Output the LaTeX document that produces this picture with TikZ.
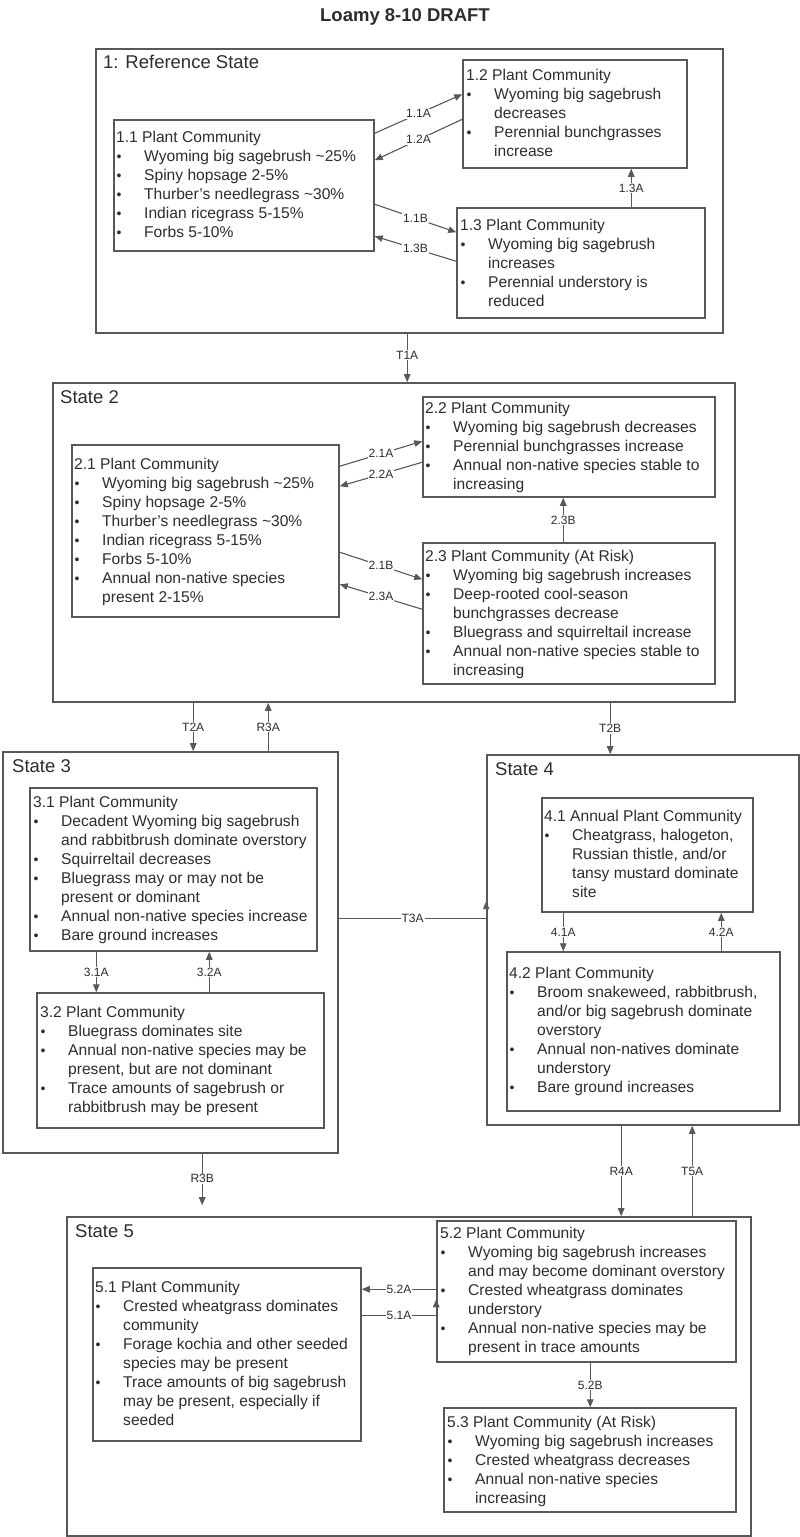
\documentclass[tikz,border=0pt]{standalone}
\usepackage{fontspec}
\setmainfont{Liberation Sans}
\usetikzlibrary{arrows.meta,fit}
\definecolor{linec}{RGB}{88,88,88}
\definecolor{txtc}{RGB}{45,45,45}
\newcommand{\bi}{\makebox[28pt][l]{\hspace{0.5pt}\raisebox{0pt}{\fontsize{14}{14}\selectfont\textbullet}}}
\newcommand{\ci}{\hspace*{28pt}}
\newcommand{\tl}{\textasciitilde}
\begin{document}
\begin{tikzpicture}[x=1pt,y=-1pt,
  stbox/.style={draw=linec,line width=1.6pt,inner sep=0pt,rectangle},
  pcbox/.style={draw=linec,line width=1.5pt,inner sep=0pt,rectangle},
  txt/.style={anchor=base west,inner sep=0pt,text=txtc,font=\fontsize{15.6}{19.1}\selectfont},
  stlabel/.style={anchor=base west,inner sep=0pt,text=txtc,font=\fontsize{18.5}{20}\selectfont},
  arr/.style={draw=linec,line width=1.1pt,-{Triangle[length=8pt,width=6.5pt]}},
  lbl/.style={fill=white,inner sep=1pt,text=txtc,font=\fontsize{12}{12}\selectfont}]
\useasboundingbox[fill=white] (0,0) rectangle (800,1537);
\node[anchor=base,text=txtc,font=\bfseries\fontsize{18.5}{20}\selectfont] (title) at (405,21) {Loamy 8-10 DRAFT};

% state boxes
\node[stbox,fit={(96,49) (723,333)}] (s1) {};
\node[stbox,fit={(53,383) (735,702)}] (s2) {};
\node[stbox,fit={(3,752) (338,1153)}] (s3) {};
\node[stbox,fit={(487,755) (799,1125)}] (s4) {};
\node[stbox,fit={(67,1217) (751,1536)}] (s5) {};
\node[stlabel] (s1l) at (103,68) {1: Reference State};
\node[stlabel] (s2l) at (60,403) {State 2};
\node[stlabel] (s3l) at (12,772) {State 3};
\node[stlabel] (s4l) at (495,775) {State 4};
\node[stlabel] (s5l) at (75,1237) {State 5};

% community boxes
\node[pcbox,fit={(114,120) (374,251)}] (c11) {};
\node[pcbox,fit={(463,60) (687,168)}] (c12) {};
\node[pcbox,fit={(457,208) (705,318)}] (c13) {};
\node[pcbox,fit={(72,445) (339,617)}] (c21) {};
\node[pcbox,fit={(423,397) (715,497)}] (c22) {};
\node[pcbox,fit={(423,543) (715,684)}] (c23) {};
\node[pcbox,fit={(30,788) (317,951)}] (c31) {};
\node[pcbox,fit={(37,993) (324,1128)}] (c32) {};
\node[pcbox,fit={(542,798) (753,912)}] (c41) {};
\node[pcbox,fit={(507,952) (780,1111)}] (c42) {};
\node[pcbox,fit={(93,1268) (361,1441)}] (c51) {};
\node[pcbox,fit={(437,1221) (736,1362)}] (c52) {};
\node[pcbox,fit={(444,1408) (736,1512)}] (c53) {};

% texts
\node[txt] (t11) at (116,142) {\begin{tabular}[t]{@{}l@{}}1.1 Plant Community\\
\bi Wyoming big sagebrush \tl25\%\\
\bi Spiny hopsage 2-5\%\\
\bi Thurber's needlegrass \tl30\%\\
\bi Indian ricegrass 5-15\%\\
\bi Forbs 5-10\%\end{tabular}};
\node[txt] (t12) at (466,80) {\begin{tabular}[t]{@{}l@{}}1.2 Plant Community\\
\bi Wyoming big sagebrush\\
\ci decreases\\
\bi Perennial bunchgrasses\\
\ci increase\end{tabular}};
\node[txt] (t13) at (460,230) {\begin{tabular}[t]{@{}l@{}}1.3 Plant Community\\
\bi Wyoming big sagebrush\\
\ci increases\\
\bi Perennial understory is\\
\ci reduced\end{tabular}};
\node[txt] (t21) at (74,469) {\begin{tabular}[t]{@{}l@{}}2.1 Plant Community\\
\bi Wyoming big sagebrush \tl25\%\\
\bi Spiny hopsage 2-5\%\\
\bi Thurber's needlegrass \tl30\%\\
\bi Indian ricegrass 5-15\%\\
\bi Forbs 5-10\%\\
\bi Annual non-native species\\
\ci present 2-15\%\end{tabular}};
\node[txt] (t22) at (425,413) {\begin{tabular}[t]{@{}l@{}}2.2 Plant Community\\
\bi Wyoming big sagebrush decreases\\
\bi Perennial bunchgrasses increase\\
\bi Annual non-native species stable to\\
\ci increasing\end{tabular}};
\node[txt] (t23) at (425,561) {\begin{tabular}[t]{@{}l@{}}2.3 Plant Community (At Risk)\\
\bi Wyoming big sagebrush increases\\
\bi Deep-rooted cool-season\\
\ci bunchgrasses decrease\\
\bi Bluegrass and squirreltail increase\\
\bi Annual non-native species stable to\\
\ci increasing\end{tabular}};
\node[txt] (t31) at (33,807) {\begin{tabular}[t]{@{}l@{}}3.1 Plant Community\\
\bi Decadent Wyoming big sagebrush\\
\ci and rabbitbrush dominate overstory\\
\bi Squirreltail decreases\\
\bi Bluegrass may or may not be\\
\ci present or dominant\\
\bi Annual non-native species increase\\
\bi Bare ground increases\end{tabular}};
\node[txt] (t32) at (40,1017) {\begin{tabular}[t]{@{}l@{}}3.2 Plant Community\\
\bi Bluegrass dominates site\\
\bi Annual non-native species may be\\
\ci present, but are not dominant\\
\bi Trace amounts of sagebrush or\\
\ci rabbitbrush may be present\end{tabular}};
\node[txt] (t41) at (544,821) {\begin{tabular}[t]{@{}l@{}}4.1 Annual Plant Community\\
\bi Cheatgrass, halogeton,\\
\ci Russian thistle, and/or\\
\ci tansy mustard dominate\\
\ci site\end{tabular}};
\node[txt] (t42) at (509,978) {\begin{tabular}[t]{@{}l@{}}4.2 Plant Community\\
\bi Broom snakeweed, rabbitbrush,\\
\ci and/or big sagebrush dominate\\
\ci overstory\\
\bi Annual non-natives dominate\\
\ci understory\\
\bi Bare ground increases\end{tabular}};
\node[txt] (t51) at (95,1292) {\begin{tabular}[t]{@{}l@{}}5.1 Plant Community\\
\bi Crested wheatgrass dominates\\
\ci community\\
\bi Forage kochia and other seeded\\
\ci species may be present\\
\bi Trace amounts of big sagebrush\\
\ci may be present, especially if\\
\ci seeded\end{tabular}};
\node[txt] (t52) at (440,1238) {\begin{tabular}[t]{@{}l@{}}5.2 Plant Community\\
\bi Wyoming big sagebrush increases\\
\ci and may become dominant overstory\\
\bi Crested wheatgrass dominates\\
\ci understory\\
\bi Annual non-native species may be\\
\ci present in trace amounts\end{tabular}};
\node[txt] (t53) at (447,1427) {\begin{tabular}[t]{@{}l@{}}5.3 Plant Community (At Risk)\\
\bi Wyoming big sagebrush increases\\
\bi Crested wheatgrass decreases\\
\bi Annual non-native species\\
\ci increasing\end{tabular}};

% connectors state 1
\draw[arr] ([yshift=-14pt]c11.north east) -- node[lbl]{1.1A} ([yshift=-35pt]c12.north west);
\draw[arr] ([yshift=-60pt]c12.north west) -- node[lbl]{1.2A} ([yshift=-41pt]c11.north east);
\draw[arr] ([yshift=-85pt]c11.north east) -- node[lbl]{1.1B} ([yshift=-25pt]c13.north west);
\draw[arr] ([yshift=-54pt]c13.north west) -- node[lbl]{1.3B} ([yshift=-117pt]c11.north east);
\draw[arr] ([xshift=175pt]c13.north west) -- node[lbl]{1.3A} ([xshift=169pt]c12.south west);
% state 2
\draw[arr] ([yshift=-22pt]c21.north east) -- node[lbl]{2.1A} ([yshift=-45pt]c22.north west);
\draw[arr] ([yshift=-66pt]c22.north west) -- node[lbl]{2.2A} ([yshift=-42pt]c21.north east);
\draw[arr] ([yshift=-108pt]c21.north east) -- node[lbl]{2.1B} ([yshift=-37pt]c23.north west);
\draw[arr] ([yshift=-67pt]c23.north west) -- node[lbl]{2.3A} ([yshift=-140pt]c21.north east);
\draw[arr] ([xshift=141pt]c23.north west) -- node[lbl]{2.3B} ([xshift=141pt]c22.south west);
% state 3 and 4
\draw[arr] ([xshift=67pt]c31.south west) -- node[lbl]{3.1A} ([xshift=60pt]c32.north west);
\draw[arr] ([xshift=173pt]c32.north west) -- node[lbl]{3.2A} ([xshift=180pt]c31.south west);
\draw[arr] ([xshift=22pt]c41.south west) -- node[lbl]{4.1A} ([xshift=57pt]c42.north west);
\draw[arr] ([xshift=215pt]c42.north west) -- node[lbl]{4.2A} ([xshift=180pt]c41.south west);
% state 5
\draw[arr] ([yshift=-69pt]c52.north west) -- node[lbl]{5.2A} ([yshift=-22pt]c51.north east);
\draw[arr] ([yshift=-48pt]c51.north east) -- node[lbl]{5.1A} ([yshift=-95pt]c52.north west) -- ([yshift=-79pt]c52.north west);
\draw[arr] ([xshift=154pt]c52.south west) -- node[lbl]{5.2B} ([xshift=147pt]c53.north west);
% transitions between states
\draw[arr] ([xshift=312pt]s1.south west) -- node[lbl,pos=0.44]{T1A} ([xshift=355pt]s2.north west);
\draw[arr] ([xshift=141pt]s2.south west) -- node[lbl]{T2A} ([xshift=191pt]s3.north west);
\draw[arr] ([xshift=266pt]s3.north west) -- node[lbl]{R3A} ([xshift=216pt]s2.south west);
\draw[arr] ([xshift=558pt]s2.south west) -- node[lbl]{T2B} ([xshift=124pt]s4.north west);
\draw[arr] ([yshift=-167pt]s3.north east) -- node[lbl]{T3A} ([yshift=-164pt]s4.north west) -- ([yshift=-147pt]s4.north west);
\draw[arr,shorten >=11pt] ([xshift=200pt]s3.south west) -- node[lbl,pos=0.4]{R3B} ([xshift=136pt]s5.north west);
\draw[arr] ([xshift=135pt]s4.south west) -- node[lbl]{R4A} ([xshift=555pt]s5.north west);
\draw[arr] ([xshift=626pt]s5.north west) -- node[lbl]{T5A} ([xshift=206pt]s4.south west);
\end{tikzpicture}
\end{document}
